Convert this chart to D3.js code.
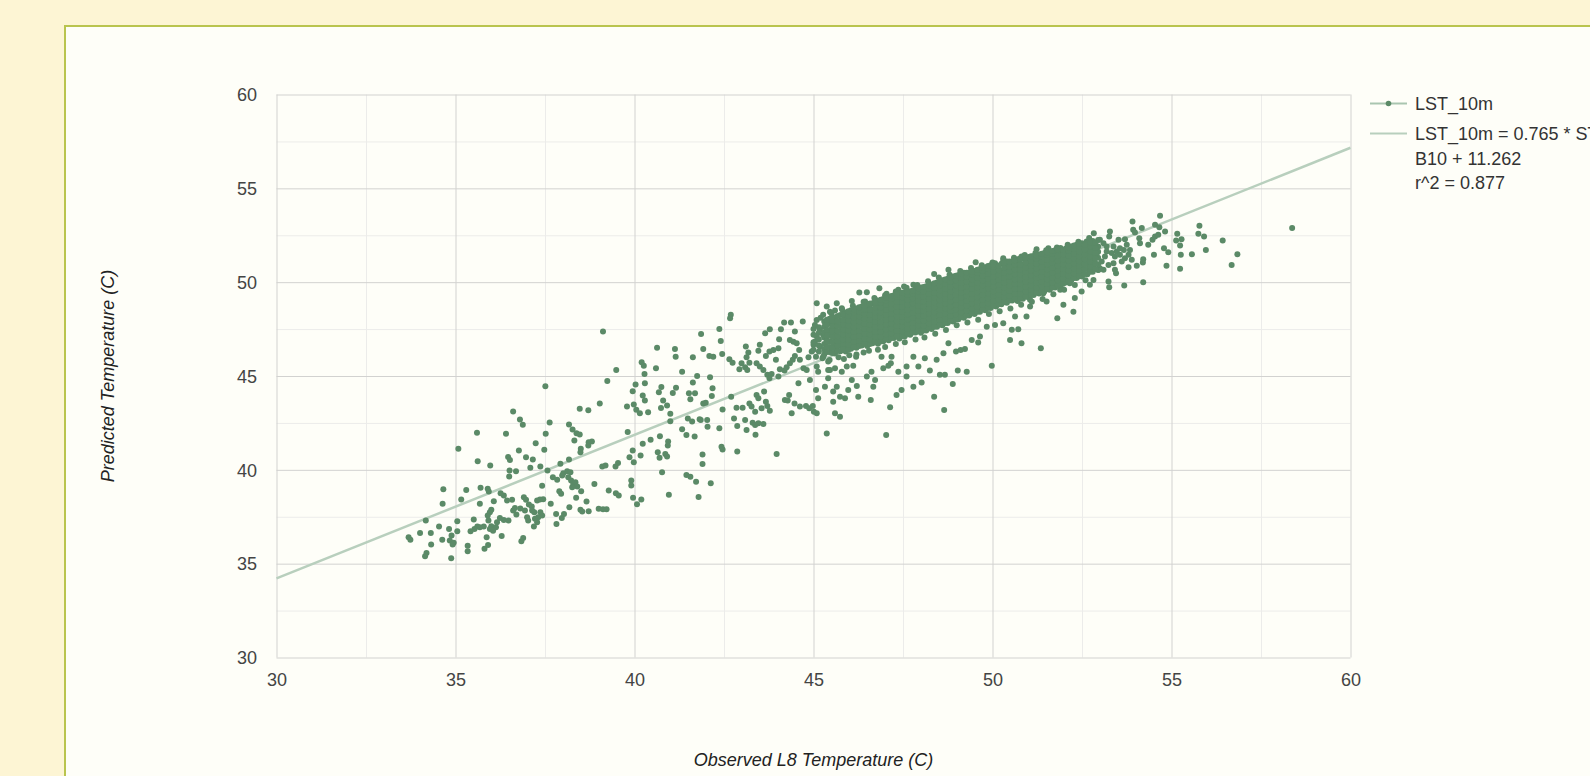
<!DOCTYPE html>
<html>
<head>
<meta charset="utf-8">
<script src="https://cdnjs.cloudflare.com/ajax/libs/d3/7.8.5/d3.min.js"></script>
<style>
  html, body { margin: 0; padding: 0; background: #fdf5d4; overflow: hidden; }
  svg { display: block; font-family: Arial, "Liberation Sans", sans-serif; }
</style>
</head>
<body>
<svg id="chart" width="1590" height="776"></svg>
<script>
// axis ticks
const majorTicks = [30, 35, 40, 45, 50, 55, 60];
const minorTicks = [32.5, 37.5, 42.5, 47.5, 52.5, 57.5];

// fitted trend line (from legend)
const fitSlope = 0.765;
const fitIntercept = 11.262;

const seriesName = 'LST_10m';
const trendLabel = ['LST_10m = 0.765 * ST_', 'B10 + 11.262', 'r^2 = 0.877'];

// [observed, predicted]
const lowCluster = [
  [37.51,44.46],[39.24,44.73],[39.95,44.19],[40.03,44.55],[40.29,44.62],[40.75,44.41],[41.16,44.37],[40.68,44.14],[41.07,44.09],[40.80,43.70],
  [40.23,43.96],[40.29,43.70],[39.79,43.38],[39.98,43.48],[40.05,43.20],[40.15,43.02],[40.38,43.07],[40.74,43.29],[40.91,43.43],[41.00,42.99],
  [41.00,42.59],[38.47,43.25],[38.71,43.18],[39.03,43.54],[36.61,43.11],[36.80,42.68],[36.88,42.40],[37.63,42.52],[37.52,41.92],[38.17,42.42],
  [38.27,42.15],[38.38,41.95],[38.47,41.88],[38.32,41.56],[38.72,41.47],[38.81,41.51],[38.71,41.30],[38.50,41.12],[38.49,40.94],[35.60,41.97],
  [36.41,41.92],[37.24,41.42],[35.08,41.12],[36.77,41.03],[37.48,41.07],[36.47,40.69],[36.52,40.53],[36.97,40.67],[37.16,40.55],[35.62,40.46],
  [35.97,40.23],[36.51,39.96],[36.69,39.93],[36.50,39.64],[37.09,40.11],[37.37,40.18],[37.57,39.96],[37.93,40.32],[38.17,40.55],[37.72,39.61],
  [37.84,39.47],[37.98,39.70],[38.01,39.82],[38.12,39.93],[38.21,39.87],[38.15,39.61],[38.23,39.43],[38.29,39.25],[38.35,39.34],[38.40,39.11],
  [38.26,39.07],[38.51,38.86],[38.88,39.25],[39.10,40.18],[39.19,40.23],[39.47,40.18],[39.54,40.36],[39.81,42.01],[39.95,41.03],[39.98,40.41],
  [39.86,40.67],[40.17,40.76],[40.23,41.39],[40.45,41.60],[40.71,41.79],[40.94,41.51],[40.93,41.30],[40.65,40.94],[40.70,40.64],[40.86,40.85],
  [40.91,40.71],[40.77,39.87],[40.96,38.67],[39.91,39.43],[39.91,39.16],[39.28,38.90],[39.48,38.75],[39.56,38.63],[39.96,38.51],[40.19,38.42],
  [40.07,38.17],[37.90,38.86],[37.95,38.72],[38.37,38.51],[38.66,38.31],[39.00,37.92],[39.12,37.90],[39.22,37.90],[38.49,37.87],[38.54,37.78],
  [38.72,37.79],[38.18,38.01],[37.66,38.19],[37.42,39.15],[37.45,38.43],[37.36,38.42],[37.28,38.36],[36.91,38.54],[36.97,38.40],[37.05,38.15],
  [37.13,38.04],[37.14,37.83],[37.20,37.74],[37.37,37.74],[37.42,37.56],[37.31,37.47],[37.22,37.39],[37.28,37.21],[37.19,36.98],[37.00,37.47],
  [37.03,37.30],[36.94,37.83],[36.81,37.94],[36.70,37.62],[36.61,37.83],[36.66,37.97],[36.58,38.40],[36.44,38.36],[36.35,38.63],[36.26,38.75],
  [36.07,38.33],[36.00,37.87],[35.96,37.74],[35.90,37.56],[35.92,37.30],[36.00,36.99],[35.96,36.85],[35.87,36.41],[35.91,36.00],[35.81,35.79],
  [35.70,39.04],[35.68,38.19],[35.90,38.99],[35.93,38.84],[36.24,37.44],[36.29,36.48],[36.35,37.33],[36.48,37.30],[36.16,37.21],[36.13,36.94],
  [36.05,36.76],[35.79,36.98],[35.68,36.94],[35.61,36.98],[35.53,36.85],[35.42,36.73],[35.51,37.35],[35.16,38.42],[35.30,38.93],[34.66,38.97],
  [34.64,38.19],[34.17,37.30],[34.54,36.98],[34.82,36.85],[35.05,37.26],[35.05,36.73],[34.89,36.50],[34.84,36.23],[34.95,36.11],[34.92,36.02],
  [34.63,36.27],[34.31,36.64],[34.01,36.64],[33.69,36.41],[33.74,36.27],[34.32,36.02],[34.19,35.57],[34.15,35.39],[34.88,35.29],[35.34,35.96],
  [35.34,35.66],[36.84,36.19],[36.89,36.37],[37.82,37.12],[37.97,37.44],[38.03,37.65],[37.81,37.65]
];

const upperLeft = [
  [39.12,47.37],[40.63,46.51],[41.13,46.44],[41.15,46.03],[41.63,46.00],[40.20,45.73],[40.26,45.54],[40.60,45.41],[39.49,45.32],[41.33,45.22],
  [41.75,45.00],[40.28,45.11],[41.63,44.66],[41.52,44.08],[41.69,44.08],[41.56,43.76],[41.49,42.74],[41.61,42.57],[41.33,42.16],[41.45,41.86],
  [41.68,41.77],[41.82,42.69],[41.45,39.72],[41.56,39.63],[41.72,39.37]
];

const midBand = [
  [42.69,48.26],[42.67,48.08],[42.37,47.51],[41.86,47.24],[42.41,46.87],[41.92,46.44],[42.09,46.07],[42.20,46.03],[42.45,46.17],[42.65,45.89],
  [42.74,45.71],[42.93,45.36],[42.99,45.68],[43.09,45.47],[43.15,45.32],[43.21,45.71],[43.13,46.00],[43.11,46.57],[43.18,46.25],[43.41,45.68],
  [43.50,45.50],[43.46,46.35],[43.50,46.66],[43.65,47.28],[43.78,47.49],[43.67,46.07],[43.77,46.30],[43.88,46.39],[43.95,45.86],[44.02,46.48],
  [44.04,46.96],[44.09,47.49],[44.18,47.85],[44.37,47.85],[43.60,45.32],[43.71,45.06],[43.77,44.88],[43.83,45.11],[44.02,44.97],[44.06,45.36],
  [44.19,45.29],[44.25,45.47],[44.34,45.68],[44.42,45.86],[44.48,46.07],[44.60,46.39],[44.48,47.37],[44.70,47.90],[44.44,46.83],[44.34,46.92],
  [44.53,46.75],[44.62,45.86],[44.72,45.41],[44.81,45.32],[44.90,44.79],[44.86,46.00],[44.95,46.30],[45.07,46.03],[45.09,45.50],[45.13,45.23],
  [45.00,46.66],[45.04,46.83],[45.09,47.10],[45.18,47.46],[45.32,47.63],[45.41,47.81],[45.09,48.88],[45.37,48.70],[45.27,48.26],[45.04,47.72],
  [45.09,47.99],[45.18,46.57],[45.32,46.39],[45.37,46.92],[45.27,47.19],[45.41,47.28],[45.27,46.03],[45.41,45.77],[45.41,45.32],
  [42.70,43.90],[42.46,43.22],[41.92,43.54],[41.99,43.58],[42.16,43.94],[42.18,44.35],[42.11,44.93],[42.03,42.66],[42.04,42.30],[41.85,42.66],
  [42.37,42.21],[42.43,41.23],[42.46,41.09],[41.90,40.82],[41.90,40.31],[42.13,39.28],[41.79,38.55],[42.85,43.31],[43.02,43.31],[42.78,42.74],
  [42.87,42.34],[43.13,42.12],[43.09,42.66],[43.21,43.54],[43.27,43.37],[43.37,43.10],[43.41,43.99],[43.46,43.81],[43.30,42.51],[43.37,42.39],
  [43.46,42.48],[43.60,42.44],[43.38,41.87],[42.87,40.98],[43.55,43.28],[43.62,44.17],[43.67,43.63],[43.71,43.40],[43.78,43.15],[43.97,40.84],
  [44.20,43.72],[44.32,43.99],[44.28,43.69],[44.47,43.54],[44.39,43.01],[44.58,44.61],[44.62,43.37],[44.79,43.40],[44.88,43.28],[44.98,43.40],
  [45.01,43.10],[45.09,43.01],[45.07,44.26],[45.13,43.81],[45.32,44.43],[45.37,41.94],[45.41,44.88],[47.03,41.85]
];

const coreEdges = [
  [49.53,51.06],[48.37,50.44],[48.77,50.66],[48.25,49.86],[47.79,49.86],[47.86,49.77],[47.53,49.77],[47.37,49.59],[47.04,49.38],[46.84,49.68],
  [46.49,49.46],[46.28,49.45],[46.72,49.09],[46.44,48.97],[46.07,49.00],[45.65,48.88],[45.79,48.61],[45.46,48.43],[45.60,48.49],[45.93,47.99],
  [46.07,48.20],[50.07,51.01],[50.30,51.28],[50.56,51.01],[50.81,51.37],[51.23,51.76],[51.56,51.81],[51.98,51.63],[52.35,51.72],[52.63,52.17],
  [45.46,45.32],[45.60,45.41],[45.79,45.23],[45.93,45.50],[46.11,45.54],[46.19,46.03],[46.07,44.79],[46.21,44.47],[45.97,44.26],[45.65,44.43],
  [45.55,44.17],[45.74,43.90],[45.88,43.81],[46.25,43.90],[46.60,43.72],[45.55,43.63],[45.60,43.01],[45.74,42.83],[47.14,43.33],[47.32,43.99],
  [47.46,44.26],[47.79,44.43],[48.02,44.65],[48.37,43.90],[48.65,43.19],[48.89,44.57],[48.53,45.06],[48.67,45.06],[48.25,45.29],[47.93,45.50],
  [47.60,45.50],[47.37,45.23],[46.95,45.41],[47.09,45.54],[47.16,45.68],[47.18,46.03],[46.90,46.03],[46.62,45.23],[46.72,44.79],[46.67,44.43],
  [46.49,44.97],[47.60,44.97],[47.79,46.03],[48.11,45.94],[48.44,45.86],[48.63,46.21],[48.77,46.74],[48.98,46.30],[49.11,46.39],[49.23,46.44],
  [49.28,45.23],[49.03,45.29],[49.60,46.78],[49.65,47.10],[49.42,46.92],[49.98,45.54],[50.54,47.46],[50.49,46.92],[50.72,47.49],[50.81,46.74],
  [51.35,46.48],[51.81,48.08],[52.26,48.43],[52.30,49.15],[52.49,49.50],[51.98,48.79],[51.51,48.97],[51.05,48.70],[50.63,48.17],[50.30,47.81],
  [50.07,47.72],[49.84,47.63],[50.95,48.17],[51.05,49.06],[51.42,49.41],[51.89,49.59],[52.16,49.94],[52.40,50.30]
];

// loose dots hugging the dense band, below then above
const coreFringe = [
  [45.25,45.95],[45.45,45.85],[45.70,46.00],[45.85,45.90],[46.00,46.10],[46.20,46.15],[46.40,46.25],[46.55,46.35],[46.80,46.40],[47.00,46.55],
  [47.30,46.70],[47.55,46.80],[47.85,46.95],[48.10,47.05],[48.40,47.25],[48.70,47.45],[49.00,47.70],[49.30,47.85],[49.60,48.00],[49.90,48.30],
  [50.20,48.45],[50.50,48.60],[50.80,48.80],[51.10,48.95],[51.40,49.10],[51.70,49.35],[52.00,49.60],[52.30,49.85],[52.60,50.10],
  [45.20,48.10],[45.50,48.35],[45.80,48.55],[46.10,48.75],[46.40,48.95],[46.70,49.15],[47.00,49.30],[47.30,49.50],[47.60,49.70],[47.90,49.85],
  [48.20,50.05],[48.50,50.25],[48.80,50.40],[49.10,50.60],[49.40,50.75],[49.70,50.90],[50.00,51.05],[50.30,51.15],[50.60,51.30],[50.90,51.45],
  [51.20,51.55],[51.50,51.70],[51.80,51.85],[52.10,52.00],[52.40,52.15],[52.70,52.35]
];

// dense core, estimated column by column: [observed, [predicted...]]
const coreColumns = [
  [45.00, [46.40, 46.80, 47.20, 47.50]],
  [45.15, [46.30, 46.62, 46.95, 47.30, 47.60]],
  [45.30, [46.15, 46.42, 46.70, 47.05, 47.32, 47.63, 47.90]],
  [45.45, [46.28, 46.55, 46.85, 47.18, 47.45, 47.78, 48.05]],
  [45.60, [46.20, 46.48, 46.74, 46.98, 47.25, 47.52, 47.80, 48.12]],
  [45.75, [46.32, 46.60, 46.88, 47.12, 47.40, 47.66, 47.95, 48.25]],
  [45.90, [46.30, 46.55, 46.82, 47.05, 47.33, 47.58, 47.85, 48.10, 48.38]],
  [46.05, [46.45, 46.70, 46.98, 47.22, 47.48, 47.75, 48.00, 48.28, 48.50]],
  [46.20, [46.50, 46.76, 47.02, 47.30, 47.55, 47.82, 48.08, 48.35, 48.60]],
  [46.35, [46.62, 46.88, 47.15, 47.40, 47.68, 47.95, 48.20, 48.48, 48.70]],
  [46.50, [46.60, 46.85, 47.12, 47.38, 47.62, 47.90, 48.15, 48.42, 48.66, 48.82]],
  [46.65, [46.75, 47.00, 47.26, 47.52, 47.78, 48.04, 48.30, 48.55, 48.88]],
  [46.80, [46.72, 46.98, 47.22, 47.48, 47.75, 48.00, 48.25, 48.50, 48.76, 49.00]],
  [46.95, [46.85, 47.10, 47.36, 47.62, 47.88, 48.14, 48.40, 48.65, 48.90, 49.10]],
  [47.10, [46.90, 47.15, 47.42, 47.68, 47.94, 48.20, 48.46, 48.72, 48.98, 49.20]],
  [47.25, [47.02, 47.28, 47.54, 47.80, 48.06, 48.32, 48.58, 48.84, 49.08, 49.30]],
  [47.40, [47.00, 47.25, 47.50, 47.76, 48.02, 48.28, 48.54, 48.80, 49.05, 49.28, 49.42]],
  [47.55, [47.12, 47.38, 47.64, 47.90, 48.16, 48.42, 48.68, 48.94, 49.20, 49.48]],
  [47.70, [47.20, 47.45, 47.70, 47.96, 48.22, 48.48, 48.74, 49.00, 49.26, 49.52]],
  [47.85, [47.32, 47.58, 47.84, 48.10, 48.36, 48.62, 48.88, 49.14, 49.40, 49.62]],
  [48.00, [47.30, 47.55, 47.80, 48.06, 48.32, 48.58, 48.84, 49.10, 49.36, 49.60, 49.72]],
  [48.15, [47.42, 47.68, 47.94, 48.20, 48.46, 48.72, 48.98, 49.24, 49.50, 49.78]],
  [48.30, [47.50, 47.76, 48.02, 48.28, 48.54, 48.80, 49.06, 49.32, 49.58, 49.88]],
  [48.45, [47.62, 47.88, 48.14, 48.40, 48.66, 48.92, 49.18, 49.44, 49.70, 49.98]],
  [48.60, [47.70, 47.95, 48.20, 48.46, 48.72, 48.98, 49.24, 49.50, 49.76, 50.00, 50.10]],
  [48.75, [47.82, 48.08, 48.34, 48.60, 48.86, 49.12, 49.38, 49.64, 49.90, 50.18]],
  [48.90, [47.90, 48.15, 48.40, 48.66, 48.92, 49.18, 49.44, 49.70, 49.96, 50.22, 50.30]],
  [49.05, [48.02, 48.28, 48.54, 48.80, 49.06, 49.32, 49.58, 49.84, 50.10, 50.38]],
  [49.20, [48.10, 48.35, 48.60, 48.86, 49.12, 49.38, 49.64, 49.90, 50.16, 50.42, 50.50]],
  [49.35, [48.22, 48.48, 48.74, 49.00, 49.26, 49.52, 49.78, 50.04, 50.30, 50.52]],
  [49.50, [48.30, 48.55, 48.80, 49.06, 49.32, 49.58, 49.84, 50.10, 50.36, 50.60]],
  [49.65, [48.42, 48.68, 48.94, 49.20, 49.46, 49.72, 49.98, 50.24, 50.50, 50.70]],
  [49.80, [48.50, 48.75, 49.00, 49.26, 49.52, 49.78, 50.04, 50.30, 50.56, 50.80]],
  [49.95, [48.62, 48.88, 49.14, 49.40, 49.66, 49.92, 50.18, 50.44, 50.70, 50.90]],
  [50.10, [48.70, 48.95, 49.20, 49.46, 49.72, 49.98, 50.24, 50.50, 50.76, 50.92]],
  [50.25, [48.82, 49.08, 49.34, 49.60, 49.86, 50.12, 50.38, 50.64, 50.98]],
  [50.40, [48.90, 49.15, 49.40, 49.66, 49.92, 50.18, 50.44, 50.70, 50.96, 51.10]],
  [50.55, [49.02, 49.28, 49.54, 49.80, 50.06, 50.32, 50.58, 50.84, 51.10]],
  [50.70, [49.00, 49.25, 49.50, 49.76, 50.02, 50.28, 50.54, 50.80, 51.06, 51.22]],
  [50.85, [49.12, 49.38, 49.64, 49.90, 50.16, 50.42, 50.68, 50.94, 51.28]],
  [51.00, [49.20, 49.45, 49.70, 49.96, 50.22, 50.48, 50.74, 51.00, 51.26, 51.34]],
  [51.15, [49.32, 49.58, 49.84, 50.10, 50.36, 50.62, 50.88, 51.14, 51.40]],
  [51.30, [49.40, 49.65, 49.90, 50.16, 50.42, 50.68, 50.94, 51.20, 51.48]],
  [51.45, [49.52, 49.78, 50.04, 50.30, 50.56, 50.82, 51.08, 51.34, 51.55]],
  [51.60, [49.60, 49.85, 50.10, 50.36, 50.62, 50.88, 51.14, 51.40, 51.62]],
  [51.75, [49.72, 49.98, 50.24, 50.50, 50.76, 51.02, 51.28, 51.54, 51.70]],
  [51.90, [49.80, 50.05, 50.30, 50.56, 50.82, 51.08, 51.34, 51.60, 51.82]],
  [52.05, [49.98, 50.24, 50.50, 50.76, 51.02, 51.28, 51.54, 51.80]],
  [52.20, [50.10, 50.35, 50.60, 50.86, 51.12, 51.38, 51.64, 51.90]],
  [52.35, [50.22, 50.48, 50.74, 51.00, 51.26, 51.52, 51.78, 52.00]],
  [52.50, [50.30, 50.56, 50.82, 51.08, 51.34, 51.60, 51.86, 52.08]],
  [52.65, [50.42, 50.70, 50.98, 51.24, 51.50, 51.76, 52.02]],
  [52.80, [50.55, 50.85, 51.12, 51.40, 51.68, 51.95, 52.20]],
  [52.95, [50.65, 50.95, 51.30, 51.62, 51.90, 52.25]]
];

// the same core, in between the columns above
const coreBetween = [
  [45.375, [46.28, 46.56, 46.85, 47.15, 47.45, 47.75, 48.00]],
  [45.525, [46.22, 46.50, 46.80, 47.10, 47.38, 47.66, 47.95, 48.15]],
  [45.675, [46.34, 46.62, 46.86, 47.12, 47.38, 47.66, 47.92, 48.20]],
  [45.825, [46.42, 46.70, 46.96, 47.22, 47.48, 47.74, 48.00, 48.28]],
  [45.975, [46.40, 46.66, 46.92, 47.18, 47.44, 47.70, 47.96, 48.22, 48.45]],
  [46.125, [46.55, 46.82, 47.08, 47.34, 47.60, 47.86, 48.12, 48.40, 48.56]],
  [46.275, [46.60, 46.88, 47.14, 47.40, 47.66, 47.92, 48.18, 48.44, 48.66]],
  [46.425, [46.72, 47.00, 47.26, 47.52, 47.78, 48.04, 48.30, 48.56, 48.76]],
  [46.575, [46.70, 46.96, 47.22, 47.48, 47.74, 48.00, 48.26, 48.52, 48.78, 48.86]],
  [46.725, [46.84, 47.10, 47.36, 47.62, 47.88, 48.14, 48.40, 48.66, 48.92]],
  [46.875, [46.84, 47.10, 47.36, 47.62, 47.88, 48.14, 48.40, 48.66, 48.92, 49.06]],
  [47.025, [46.96, 47.22, 47.48, 47.74, 48.00, 48.26, 48.52, 48.78, 49.04, 49.16]],
  [47.175, [47.02, 47.28, 47.54, 47.80, 48.06, 48.32, 48.58, 48.84, 49.10, 49.26]],
  [47.325, [47.14, 47.40, 47.66, 47.92, 48.18, 48.44, 48.70, 48.96, 49.22, 49.36]],
  [47.475, [47.12, 47.38, 47.64, 47.90, 48.16, 48.42, 48.68, 48.94, 49.20, 49.44]],
  [47.625, [47.25, 47.51, 47.77, 48.03, 48.29, 48.55, 48.81, 49.07, 49.33, 49.50]],
  [47.775, [47.32, 47.58, 47.84, 48.10, 48.36, 48.62, 48.88, 49.14, 49.40, 49.56]],
  [47.925, [47.44, 47.70, 47.96, 48.22, 48.48, 48.74, 49.00, 49.26, 49.52, 49.66]],
  [48.075, [47.42, 47.68, 47.94, 48.20, 48.46, 48.72, 48.98, 49.24, 49.50, 49.74]],
  [48.225, [47.55, 47.81, 48.07, 48.33, 48.59, 48.85, 49.11, 49.37, 49.63, 49.84]],
  [48.375, [47.62, 47.88, 48.14, 48.40, 48.66, 48.92, 49.18, 49.44, 49.70, 49.94]],
  [48.525, [47.74, 48.00, 48.26, 48.52, 48.78, 49.04, 49.30, 49.56, 49.82, 50.04]],
  [48.675, [47.82, 48.08, 48.34, 48.60, 48.86, 49.12, 49.38, 49.64, 49.90, 50.14]],
  [48.825, [47.94, 48.20, 48.46, 48.72, 48.98, 49.24, 49.50, 49.76, 50.02, 50.24]],
  [48.975, [48.02, 48.28, 48.54, 48.80, 49.06, 49.32, 49.58, 49.84, 50.10, 50.34]],
  [49.125, [48.14, 48.40, 48.66, 48.92, 49.18, 49.44, 49.70, 49.96, 50.22, 50.44]],
  [49.275, [48.22, 48.48, 48.74, 49.00, 49.26, 49.52, 49.78, 50.04, 50.30, 50.50]],
  [49.425, [48.34, 48.60, 48.86, 49.12, 49.38, 49.64, 49.90, 50.16, 50.42, 50.56]],
  [49.575, [48.42, 48.68, 48.94, 49.20, 49.46, 49.72, 49.98, 50.24, 50.50, 50.66]],
  [49.725, [48.54, 48.80, 49.06, 49.32, 49.58, 49.84, 50.10, 50.36, 50.62, 50.76]],
  [49.875, [48.62, 48.88, 49.14, 49.40, 49.66, 49.92, 50.18, 50.44, 50.70, 50.86]],
  [50.025, [48.74, 49.00, 49.26, 49.52, 49.78, 50.04, 50.30, 50.56, 50.82, 50.92]],
  [50.175, [48.82, 49.08, 49.34, 49.60, 49.86, 50.12, 50.38, 50.64, 50.88]],
  [50.325, [48.94, 49.20, 49.46, 49.72, 49.98, 50.24, 50.50, 50.76, 51.04]],
  [50.475, [49.02, 49.28, 49.54, 49.80, 50.06, 50.32, 50.58, 50.84, 51.10]],
  [50.625, [49.12, 49.38, 49.64, 49.90, 50.16, 50.42, 50.68, 50.94, 51.16]],
  [50.775, [49.12, 49.38, 49.64, 49.90, 50.16, 50.42, 50.68, 50.94, 51.20, 51.26]],
  [50.925, [49.24, 49.50, 49.76, 50.02, 50.28, 50.54, 50.80, 51.06, 51.30]],
  [51.075, [49.32, 49.58, 49.84, 50.10, 50.36, 50.62, 50.88, 51.14, 51.38]],
  [51.225, [49.44, 49.70, 49.96, 50.22, 50.48, 50.74, 51.00, 51.26, 51.44]],
  [51.375, [49.52, 49.78, 50.04, 50.30, 50.56, 50.82, 51.08, 51.34, 51.52]],
  [51.525, [49.64, 49.90, 50.16, 50.42, 50.68, 50.94, 51.20, 51.46, 51.58]],
  [51.675, [49.72, 49.98, 50.24, 50.50, 50.76, 51.02, 51.28, 51.50, 51.66]],
  [51.825, [49.84, 50.10, 50.36, 50.62, 50.88, 51.14, 51.40, 51.66, 51.76]],
  [51.975, [49.92, 50.18, 50.44, 50.70, 50.96, 51.22, 51.48, 51.72]],
  [52.125, [50.10, 50.36, 50.62, 50.88, 51.14, 51.40, 51.66, 51.86]],
  [52.275, [50.22, 50.48, 50.74, 51.00, 51.26, 51.52, 51.78, 51.96]],
  [52.425, [50.34, 50.60, 50.86, 51.12, 51.38, 51.64, 51.90, 52.04]],
  [52.575, [50.44, 50.70, 50.96, 51.22, 51.48, 51.74, 51.98]],
  [52.725, [50.56, 50.84, 51.12, 51.38, 51.64, 51.90, 52.12]],
  [52.875, [50.70, 51.00, 51.28, 51.56, 51.82, 52.10]]
];

const upperTail = [
  [52.83,52.61],[52.77,52.08],[52.91,51.54],[52.82,50.12],[52.72,49.86],[52.96,50.66],[52.82,51.19],
  [54.68,53.54],[53.91,53.23],[53.93,52.79],[53.98,52.65],[54.17,52.88],[54.54,53.06],[54.66,52.93],[54.82,52.70],[55.16,52.58],
  [55.28,52.29],[55.24,51.95],[55.13,52.22],[55.78,53.00],[55.75,52.58],[55.91,52.43],[56.43,52.22],[55.96,51.72],[56.84,51.49],
  [56.68,50.92],[58.37,52.88],[55.57,51.49],[55.26,51.46],[55.24,50.71],[54.86,50.87],[54.91,51.60],[54.79,51.81],[54.51,51.46],
  [54.47,52.26],[54.54,52.43],[54.63,52.52],[54.35,51.99],[54.12,52.08],[54.10,52.34],[54.21,51.22],[54.20,51.05],[54.03,50.87],
  [53.80,50.80],[53.70,52.29],[53.75,51.99],[53.67,51.72],[53.84,51.72],[53.68,49.82],[53.24,50.03],[53.26,49.73],[54.21,50.00],
  [53.45,50.48],[53.42,50.66],[53.61,51.10],[53.47,51.63],[53.28,52.70],[53.26,52.43],[53.52,52.26],[53.10,52.08],[53.00,52.26],
  [53.19,51.90],[53.33,51.55],[53.14,51.37],[53.05,51.10],[53.10,50.66],[53.00,50.74],[53.38,51.01],[53.56,51.46],[53.70,51.28],
  [53.19,51.63],[53.38,51.90],[53.56,51.81],[53.80,51.46],[53.89,51.19],[53.42,51.37],[53.24,50.92]
];

const points = [].concat(lowCluster, upperLeft, midBand, coreEdges, coreFringe, upperTail);
coreColumns.concat(coreBetween).forEach(([cx, ys]) => ys.forEach(cy => points.push([cx, cy])));

const plot = { left: 276.5, right: 1350.5, top: 94.5, bottom: 657.5 };
const pointColor = '#5b8a67';
const trendColor = '#b8cfbd';

const svg = d3.select('#chart');

// card
svg.append('rect')
    .attr('x', 65).attr('y', 26)
    .attr('width', 1600).attr('height', 800)
    .attr('fill', '#fefef8')
    .attr('stroke', '#b9c44e')
    .attr('stroke-width', 2);

const x = d3.scaleLinear().domain([30, 60]).range([plot.left, plot.right]);
const y = d3.scaleLinear().domain([30, 60]).range([plot.bottom, plot.top]);

// gridlines
function grid(ticks, color) {
    const g = svg.append('g').attr('class', 'grid');
    g.append('g')
        .attr('transform', `translate(0,${plot.bottom})`)
        .call(d3.axisBottom(x).tickValues(ticks).tickSize(-(plot.bottom - plot.top)).tickFormat(''));
    g.append('g')
        .attr('transform', `translate(${plot.left},0)`)
        .call(d3.axisLeft(y).tickValues(ticks).tickSize(-(plot.right - plot.left)).tickFormat(''));
    g.selectAll('.domain').remove();
    g.selectAll('line').attr('stroke', color).attr('stroke-width', 1);
}
grid(minorTicks, '#ececea');
grid(majorTicks, '#d2d2d0');

// tick labels
const xAxis = svg.append('g')
    .attr('transform', `translate(0,${plot.bottom})`)
    .call(d3.axisBottom(x).tickValues(majorTicks).tickSize(0));
xAxis.select('.domain').remove();
xAxis.selectAll('text').attr('y', 28.5).attr('dy', 0);

const yAxis = svg.append('g')
    .attr('transform', `translate(${plot.left},0)`)
    .call(d3.axisLeft(y).tickValues(majorTicks).tickSize(0).tickPadding(19.5));
yAxis.select('.domain').remove();
yAxis.selectAll('text').attr('dy', '0.35em');

svg.selectAll('.tick text')
    .attr('font-size', 18)
    .attr('font-family', 'Arial, "Liberation Sans", sans-serif')
    .attr('fill', '#444');

// trend line
svg.append('line')
    .attr('x1', x(30)).attr('y1', y(fitSlope * 30 + fitIntercept))
    .attr('x2', x(60)).attr('y2', y(fitSlope * 60 + fitIntercept))
    .attr('stroke', trendColor)
    .attr('stroke-width', 2.5);

// points
svg.append('g')
    .selectAll('circle')
    .data(points)
    .enter()
    .append('circle')
    .attr('cx', d => x(d[0]))
    .attr('cy', d => y(d[1]))
    .attr('r', 3)
    .attr('fill', pointColor);

// axis titles
svg.append('text')
    .attr('x', (plot.left + plot.right) / 2)
    .attr('y', 766)
    .attr('text-anchor', 'middle')
    .attr('font-size', 18)
    .attr('font-style', 'italic')
    .attr('fill', '#222')
    .text('Observed L8 Temperature (C)');

svg.append('text')
    .attr('transform', `translate(114,${(plot.top + plot.bottom) / 2}) rotate(-90)`)
    .attr('text-anchor', 'middle')
    .attr('font-size', 18)
    .attr('font-style', 'italic')
    .attr('fill', '#222')
    .text('Predicted Temperature (C)');

// legend
const legend = svg.append('g');
legend.append('line')
    .attr('x1', 1370).attr('x2', 1407).attr('y1', 103.5).attr('y2', 103.5)
    .attr('stroke', '#a9c5b0').attr('stroke-width', 2);
legend.append('circle')
    .attr('cx', 1388.5).attr('cy', 103.5).attr('r', 2.8)
    .attr('fill', pointColor);
legend.append('text')
    .attr('x', 1415).attr('y', 109.5)
    .attr('font-size', 18).attr('fill', '#333')
    .text(seriesName);

legend.append('line')
    .attr('x1', 1370).attr('x2', 1407).attr('y1', 133.5).attr('y2', 133.5)
    .attr('stroke', trendColor).attr('stroke-width', 2);
legend.selectAll('text.trend')
    .data(trendLabel)
    .enter()
    .append('text')
    .attr('class', 'trend')
    .attr('x', 1415)
    .attr('y', (d, i) => 140 + i * 24.6)
    .attr('font-size', 18).attr('fill', '#333')
    .text(d => d);
</script>
</body>
</html>
